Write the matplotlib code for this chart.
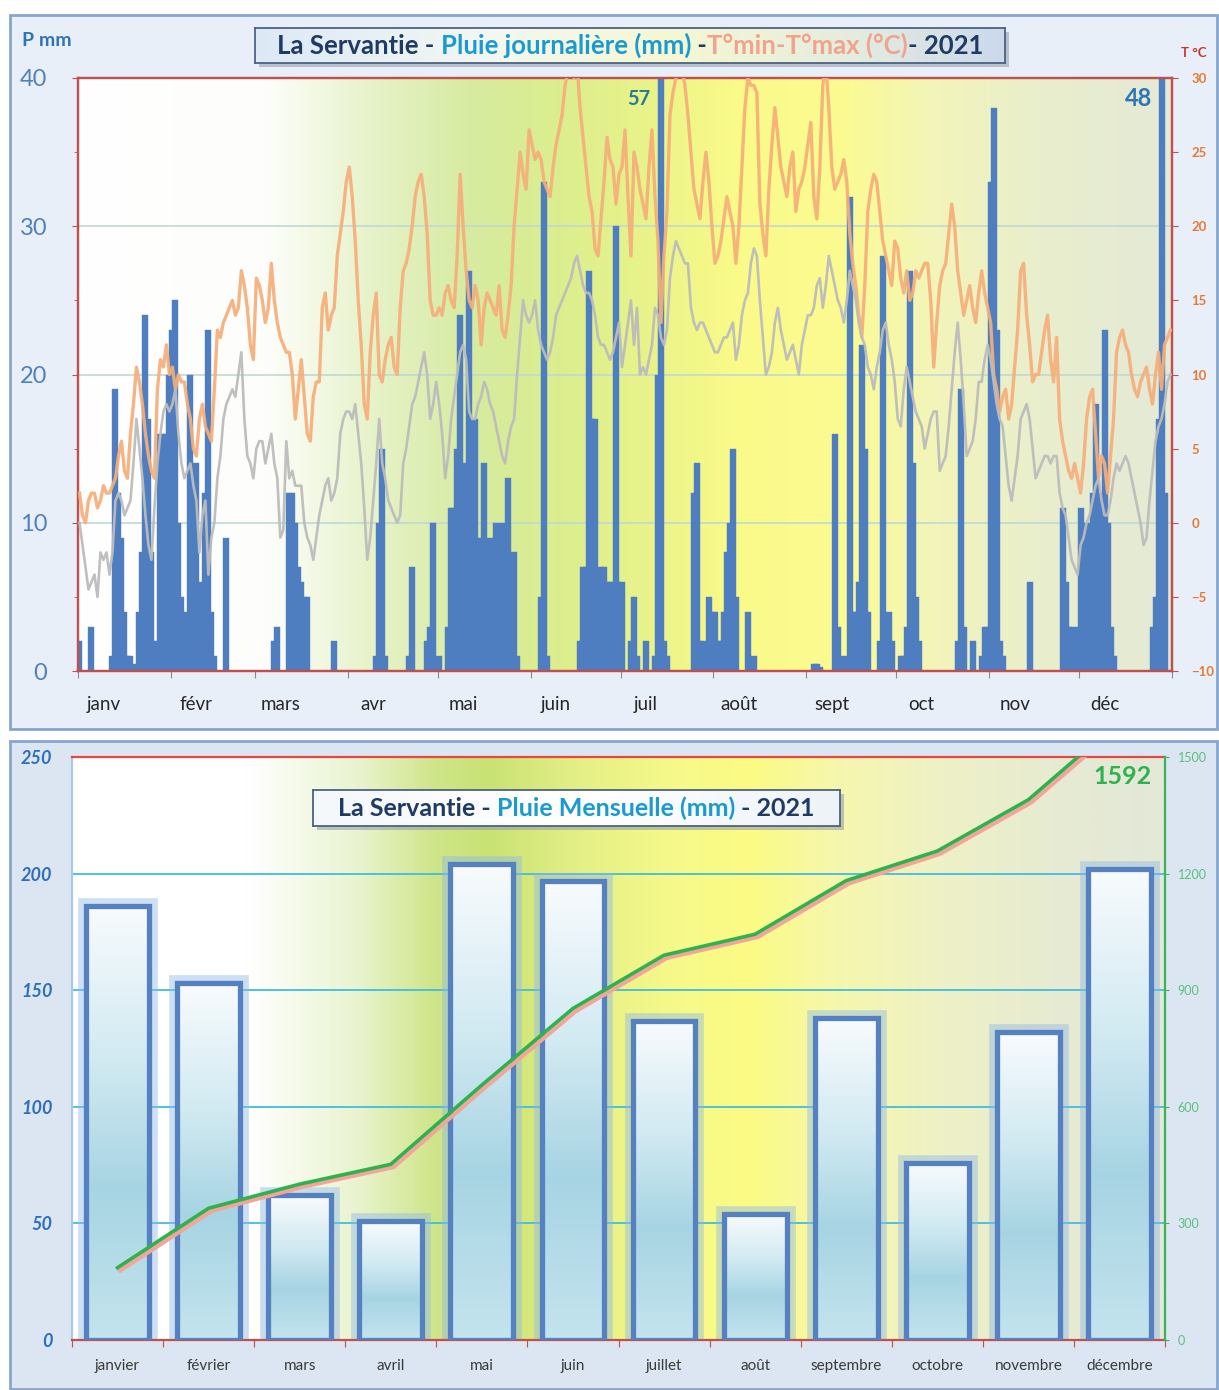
import numpy as np
import matplotlib
matplotlib.use('Agg')
import matplotlib.pyplot as plt
from matplotlib.colors import LinearSegmentedColormap
from matplotlib.offsetbox import TextArea, HPacker, AnchoredOffsetbox
from matplotlib.patches import Rectangle
import matplotlib.transforms as mtransforms

plt.rcParams['font.family'] = ['Lato', 'DejaVu Sans']

# ---------------- DATA ----------------
month_short = ['janv', 'févr', 'mars', 'avr', 'mai', 'juin', 'juil', 'août', 'sept', 'oct', 'nov', 'déc']
month_long = ['janvier', 'février', 'mars', 'avril', 'mai', 'juin', 'juillet', 'août',
              'septembre', 'octobre', 'novembre', 'décembre']
month_days = [31, 28, 31, 30, 31, 30, 31, 31, 30, 31, 30, 31]

rain_jan = [2,0,0,0,3,0,0,0,0,0, 0,1,19,12,9,4,1,1,0,0.5, 4,8,24,17,8,2,0,16,16,16, 20]
rain_feb = [23,25,10,5,4,2,20,8,14,3, 6,12,23,4,1,0,0,0,9,0, 0,0,0,0,0,0,0,0]
rain_mar = [0,0,0,0,0,0,2,3,0,0, 0,12,12,10,7,6,5,5,0,0, 0,0,0,0,0,0,2,0,0,0, 0]
rain_apr = [0,0,0,0,0,0,0,0,0,1, 10,15,1,0,0,0,0,0,0,0, 1,7,0,0,0,0,2,3,10,0]
rain_may = [1,0,0,3,11,11,15,24,5,14, 27,12,17,9,8,14,6,9,4,10, 5,10,4,13,3,8,1,0,0,0, 0]
rain_jun = [0,0,0,5,33,1,0,0,0,0, 0,0,0,0,0,0,2,7,7,27, 17,17,6,7,7,6,6,6,30,6]
rain_jul = [6,0,0,2,5,1,0,0,2,0, 0,1,20,57,2,1,0,0,0,0, 0,0,0,0,12,14,2,2,0,5, 4]
rain_aug = [4,2,2,4,8,10,15,5,0,0, 0,4,0,1,0,0,0,0,0,0, 0,0,0,0,0,0,0,0,0,0, 0]
rain_sep = [0,0,0.5,0.5,0.3,0,0,0,0,16, 3,1,0,1,32,4,4,6,22,15, 4,0,0,0,2,28,2,4,2,0]
rain_oct = [0,1,1,3,27,14,5,2,0,0, 0,0,0,0,0,0,0,0,0,0, 2,19,3,0,0,2,0,0,1,3, 3]
rain_nov = [33,38,23,2,1,0,0,0,0,0, 0,0,0,6,0,0,0,0,0,0, 0,0,0,0,11,6,3,3,2,3]
rain_dec = [11,8,10,6,12,18,12,10,23,10, 3,1,0,0,0,0,0,0,0,0, 0,0,0,0,3,5,17,48,12,0, 0]

tmax_jan = [2,0.5,0,1.5,2,2,1,1.5,2.5,2, 2,2.5,3,4.5,5.5,3.5,3,6,8,10.5, 9.5,8,6,4.5,3.5,3,9,11,10.5,12, 10]
tmax_feb = [10.5,9,10,9.5,9.5,8,7,5,4.5,7, 8,6.5,6,5.5,9,13,12.5,13.5,14,14.5, 15,14,14.5,17,16,14.5,12,11]
tmax_mar = [16.5,16,15,13.5,14.5,17.5,15,13.5,12.5,12, 11.5,11.5,10,7,9,11,8.5,6,5.5,8.5, 9.5,9.5,14.5,15.5,13,14,14.5,18,19.5,21, 23]
tmax_apr = [24,22,19,15,12,8,7,11.5,14,15.5, 10,9.5,11,12,12.5,10.5,10,14.5,17,17.5, 18.5,20,22,23,23.5,22,19.5,15,14,14]
tmax_may = [14.5,14,15.5,16,15,14.5,18,23.5,20,17, 15,14.5,16,15,12,14.5,15.5,15,14.5,14, 16,13,12.5,14,16,20,22.5,25,23.5,22.5, 26.5]
tmax_jun = [25.5,24.5,25,24.5,23,22.5,22,24,25.5,26.5, 27.5,29.5,30.5,31,30,31,28,26,24,22, 21,18.5,18,20.5,23,26,24.5,24,21.5,23.5]
tmax_jul = [24,26.5,22,18,25,24,22.5,21.5,20.5,24, 26.5,22,19,13.5,18,21,27.5,29,30,31, 30.5,29.5,27.5,25,22.5,21.5,20.5,23,25,23, 20]
tmax_aug = [17.5,18,19,20.5,22,21,20,17.5,20,24, 28,30,29.5,29.5,29,21.5,19.5,18,22.5,25.5, 28,26,24,23,22,24,25,21,22.5,23, 24]
tmax_sep = [25.5,27,22,20.5,24,29.5,31,28,24,22.5, 23,23.5,24.5,23,19.5,17.5,16,14,12.5,16, 21,22.5,23.5,23,21,19,18,17,16,19]
tmax_oct = [18.5,16.5,15.5,17,15,15.5,17,16.5,17,17.5, 17.5,15,10.5,13.5,16,17,17.5,19.5,21.5,20, 17,15.5,14,15,16,14.5,13.5,15.5,17,15.5, 14.5]
tmax_nov = [13.5,10,9,7.5,8.5,9,7,8,10.5,13, 17,17.5,14,12,9.5,10,10,11.5,13,14, 11,9.5,12.5,7,5.5,4.5,3.5,3,4,3]
tmax_dec = [2,4,7,8.5,9,6,3,4.5,4,2, 4.5,7,11.5,12.5,13,12,11.5,10,9,8.5, 9.5,10,10.5,9,8,10,11.5,9,12,12.5, 13]

tmin_jan = [0,-1.5,-3,-4.5,-4,-3.5,-5,-2,-2.5,-2, -3.5,-2,1.5,2,1.5,0.5,1,1.5,4,7, 5,3,0.5,-1.5,-2.5,1,4,6,7.5,8, 7.5]
tmin_feb = [8,9,6,4,3,3.5,4,2.5,1.5,-2, 0.5,1.5,-3.5,-1,0,3,4.5,7,8,8.5, 9,8.5,10,11.5,7,4.5,4,3]
tmin_mar = [5,5.5,5.5,4,5,6,4,3,-1,-0.5, 5.5,3,3.5,2.5,2.5,2.5,0,-1,-1.5,-2.5, -1,0.5,1.5,2.5,3,1.5,2,3,6,7, 7.5]
tmin_apr = [7.5,7,8,6,4,1,-2.5,-1,1.5,4, 7,4,3,1.5,1,0.5,0,0.5,4,5, 6.5,8,8.5,9.5,10.5,11.5,10,7,8,9.5]
tmin_may = [8,6,3,4.5,7,8.5,10,11.5,12,11, 7.5,7,7,8,8.5,9.5,9,8,7.5,6.5, 5.5,4.5,4,5.5,6.5,7,10,12.5,15,14, 13.5]
tmin_jun = [14,15,13,12,11.5,11,11.5,12.5,14,14.5, 15,15.5,16,16.5,17.5,18,17,16,15.5,15.5, 15,14,12.5,12,12,11.5,11,11.5,12.5,13.5]
tmin_jul = [10.5,12,13.5,15,12,14.5,10,10.5,10,11, 12,14.5,14,12.5,12,13,16.5,18,19,18.5, 18,17.5,17.5,14.5,13.5,13,13.5,13.5,13,12.5, 12]
tmin_aug = [11.5,11.5,12,12.5,12.5,13,13.5,11,12,14, 15,15.5,17.5,18.5,18,15,12.5,10,10.5,11.5, 13.5,14.5,13,12,11,11.5,12,11,10,12, 13]
tmin_sep = [14,14,14.5,16,16.5,14.5,16,18,17,16, 15,14.5,13.5,15,17,16,15,13.5,12.5,12, 10.5,10,9,10.5,11.5,13,13.5,12,11,9.5]
tmin_oct = [7,6.5,9,10.5,9.5,8.5,7.5,7,6.5,5, 6,7,7.5,7.5,3.5,4,4.5,6.5,9,11.5, 13.5,11,8,4.5,5,5.5,7,9.5,9.5,11, 12]
tmin_nov = [11,9.5,8,7,6.5,4.5,2.5,1.5,3,4.5, 7,7.5,8,7,5,3,3.5,4,4.5,4.5, 4,4.5,4.5,2,1,0.5,-1,-2.5,-3,-3.5]
tmin_dec = [-1.5,-1,0,0.5,1.5,2.5,3,1.5,0.5,0.5, 1.5,3,4,3.5,4,4.5,4,3,2,1, 0,-1.5,-1,1.5,3.5,5.5,6.5,7,8,9.5, 10]

monthly_rain = [186, 153, 62, 51, 204, 197, 137, 54, 138, 76, 132, 202]

rain = np.array(rain_jan + rain_feb + rain_mar + rain_apr + rain_may + rain_jun +
                rain_jul + rain_aug + rain_sep + rain_oct + rain_nov + rain_dec, dtype=float)
tmax = np.array(tmax_jan + tmax_feb + tmax_mar + tmax_apr + tmax_may + tmax_jun +
                tmax_jul + tmax_aug + tmax_sep + tmax_oct + tmax_nov + tmax_dec, dtype=float)
tmin = np.array(tmin_jan + tmin_feb + tmin_mar + tmin_apr + tmin_may + tmin_jun +
                tmin_jul + tmin_aug + tmin_sep + tmin_oct + tmin_nov + tmin_dec, dtype=float)
days = np.arange(len(rain))
month_start = np.concatenate([[0], np.cumsum(month_days)[:-1]])

# ---------------- FIGURE ----------------
W, H = 1219, 1390
fig = plt.figure(figsize=(W / 100, H / 100), dpi=100)
fig.patch.set_facecolor('white')


def fx(px):
    return px / W


def fy(py):
    return 1 - py / H


# panel frames
for (x0, y0, x1, y1, fc) in [(10, 15, 1217, 729, '#e8eff8'), (10, 741, 1217, 1389, '#dbe6f2')]:
    fig.patches.append(Rectangle((fx(x0), fy(y1)), fx(x1) - fx(x0), fy(y0) - fy(y1),
                                 transform=fig.transFigure, facecolor=fc,
                                 edgecolor='#86a6cf', lw=2, zorder=-5))


def hgrad(ax, stops):
    cmap = LinearSegmentedColormap.from_list('g', stops)
    grad = np.linspace(0, 1, 600).reshape(1, -1)
    ax.imshow(grad, aspect='auto', cmap=cmap, extent=(0, 1, 0, 1),
              transform=ax.transAxes, zorder=0, interpolation='bilinear')


RED = '#c0504d'

# ---------------- TOP PANEL ----------------
ax1 = fig.add_axes([fx(78), fy(671), fx(1172) - fx(78), fy(78) - fy(671)])
hgrad(ax1, [(0, '#ffffff'), (0.17, '#fdfefb'), (0.27, '#e6f2c8'), (0.36, '#d6eba0'),
            (0.44, '#dbee8e'), (0.52, '#e9f38a'), (0.6, '#f9fa88'), (0.7, '#fbfb92'),
            (0.78, '#f3f5b8'), (0.88, '#e9eecd'), (1, '#e4ead6')])
grid_top = [10, 20, 30]
ax1.hlines(grid_top, -0.5, days[-1] + 0.5, color='#bfd9d2', lw=1.2, zorder=1)
ax1.bar(days, rain, width=2.0, color='#4f7ec0', edgecolor='#4f7ec0', linewidth=0.3, zorder=2)
ax1.set_xlim(-0.5, days[-1] + 0.5)
ax1.set_ylim(0, 40)
ax1.set_autoscale_on(False)

# values of the bars that leave the axis
for i in np.where(rain > 40)[0]:
    big = (i > 300)
    ax1.text(i - 7.5, 38.6, f'{rain[i]:.0f}', ha='center', va='center',
             fontsize=17 if big else 14.5, fontweight='bold',
             color='#2e75b6' if big else '#2a7d8e', zorder=6)

ax1.set_yticks([0, 10, 20, 30, 40])
ax1.set_yticks([5, 15, 25, 35], minor=True)
ax1.tick_params(axis='y', which='major', labelsize=17, labelcolor='#4f81bd', color=RED,
                length=4, pad=18)
ax1.tick_params(axis='y', which='minor', color=RED, length=3)
ax1.set_xticks(list(month_start - 0.5) + [days[-1] + 0.5])
ax1.set_xticklabels([])
ax1.set_xticks(month_start + 8, minor=True)
ax1.set_xticklabels(month_short, minor=True)
ax1.tick_params(axis='x', which='major', length=5, color='#8a8a8a')
ax1.tick_params(axis='x', which='minor', length=0, pad=18, labelsize=13.5, labelcolor='#262626')
for s in ax1.spines.values():
    s.set_color(RED)
    s.set_linewidth(1.6)

ax2 = ax1.twinx()
ax2.plot(days, tmax, color='#f6ae7a', lw=2.4, alpha=0.92, zorder=3)
ax2.plot(days, tmin, color='#bcbcbc', lw=1.9, alpha=0.95, zorder=3)
ax2.set_ylim(-10, 30)
ax2.set_yticks(range(-10, 31, 5))
ax2.tick_params(axis='y', labelsize=9.5, labelcolor='#e57a36', color=RED, length=4, pad=10)
for lab in ax2.get_yticklabels():
    lab.set_fontweight('bold')
for s in ax2.spines.values():
    s.set_color(RED)
    s.set_linewidth(1.6)

fig.text(fx(22), fy(40), 'P mm', ha='left', va='center', fontsize=14,
         fontweight='bold', color='#2e75b6')
fig.text(fx(1194), fy(53), 'T °C', ha='center', va='center', fontsize=9.5,
         fontweight='bold', color='#c0392b')

# ---------------- BOTTOM PANEL ----------------
ax3 = fig.add_axes([fx(72), fy(1340), fx(1165) - fx(72), fy(757) - fy(1340)])
hgrad(ax3, [(0, '#ffffff'), (0.16, '#ffffff'), (0.26, '#e9f4cf'), (0.33, '#cfe58a'),
            (0.38, '#c9e274'), (0.46, '#e3ef86'), (0.55, '#f6f98a'), (0.62, '#fbfb84'),
            (0.7, '#f6f7ad'), (0.8, '#eef1c6'), (0.9, '#e7ebd2'), (1, '#e3e8d8')])
xs = np.arange(len(monthly_rain))
grid_bot = [50, 100, 150, 200]
ax3.hlines(grid_bot, -0.5, xs[-1] + 0.5, color='#3fbde0', lw=1.3, zorder=1)

bar_cmap = LinearSegmentedColormap.from_list('b', [(0, '#c4e4ee'), (0.35, '#a7d4e3'),
                                                   (0.65, '#d2eaf2'), (1, '#f8fbfd')])
vgrad = np.linspace(0, 1, 256).reshape(-1, 1)
bars = ax3.bar(xs, monthly_rain, width=0.69, facecolor='none', edgecolor='#5581c0',
               lw=3.8, zorder=4)
for b in bars:
    x0, w, h = b.get_x(), b.get_width(), b.get_height()
    ax3.add_patch(Rectangle((x0, 0), w, h, facecolor='none', edgecolor='#8fb8e6',
                            lw=12, alpha=0.45, zorder=2))
    im = ax3.imshow(vgrad, aspect='auto', cmap=bar_cmap, extent=(x0, x0 + w, 0, h),
                    origin='lower', zorder=3)
    im.set_clip_path(b)
ax3.set_xlim(-0.5, xs[-1] + 0.5)
ax3.set_ylim(0, 250)
ax3.set_autoscale_on(False)
ax3.set_yticks([0, 50, 100, 150, 200, 250])
ax3.tick_params(axis='y', length=0, pad=14, labelsize=13, labelcolor='#2f6eba')
for lab in ax3.get_yticklabels():
    lab.set_fontstyle('italic')
    lab.set_fontweight('bold')
ax3.set_xticks(np.arange(-0.5, xs[-1] + 1, 1))
ax3.set_xticklabels([])
ax3.set_xticks(xs, minor=True)
ax3.set_xticklabels(month_long, minor=True)
ax3.tick_params(axis='x', which='major', length=5, color=RED)
ax3.tick_params(axis='x', which='minor', length=0, pad=14, labelsize=11, labelcolor='#3a3a3a')
ax3.spines['top'].set_color('#e8473e')
ax3.spines['bottom'].set_color(RED)
ax3.spines['left'].set_color('#a9c9e4')
ax3.spines['right'].set_visible(False)
for s in ax3.spines.values():
    s.set_linewidth(1.6)

ax4 = ax3.twinx()
cum = np.cumsum(monthly_rain)
shadow = ax4.transData + mtransforms.ScaledTranslation(2 / 72, -2 / 72, fig.dpi_scale_trans)
ax4.plot(xs, cum, color='#f4a49b', lw=3, transform=shadow, zorder=4)
ax4.plot(xs, cum, color='#2eb24d', lw=2.6, zorder=5)
ax4.set_ylim(0, 1500)
ax4.set_yticks(range(0, 1501, 300))
ax4.tick_params(axis='y', labelsize=9, labelcolor='#5cc07a', color='#3cb35a', length=3, pad=6)
for k in ['top', 'bottom', 'left']:
    ax4.spines[k].set_visible(False)
ax4.spines['right'].set_color('#3cb35a')
ax4.spines['right'].set_linewidth(1.6)
ax4.text(xs[-1] + 0.03, 1450, f'{cum[-1]:.0f}', ha='center', va='center', fontsize=18,
         fontweight='bold', color='#2eb24d', zorder=6)


# ---------------- TITLE BOXES ----------------
def title_box(px0, py0, px1, py1, parts, fs, stops):
    rect = [fx(px0), fy(py1), fx(px1) - fx(px0), fy(py0) - fy(py1)]
    sax = fig.add_axes([rect[0] + 0.003, rect[1] - 0.003, rect[2], rect[3]], zorder=19)
    sax.set_facecolor('#8f9aa8')
    sax.patch.set_alpha(0.55)
    sax.set_xticks([]); sax.set_yticks([])
    for s in sax.spines.values():
        s.set_visible(False)
    tax = fig.add_axes(rect, zorder=20)
    cmap = LinearSegmentedColormap.from_list('t', stops)
    tax.imshow(np.linspace(0, 1, 300).reshape(1, -1), aspect='auto', cmap=cmap,
               extent=(0, 1, 0, 1), interpolation='bilinear')
    tax.set_xlim(0, 1); tax.set_ylim(0, 1)
    tax.set_xticks([]); tax.set_yticks([])
    for s in tax.spines.values():
        s.set_color('#4d6282')
        s.set_linewidth(1.3)
    areas = [TextArea(s, textprops=dict(color=c, fontsize=fs, fontweight='bold'))
             for s, c in parts]
    pack = HPacker(children=areas, align='baseline', pad=0, sep=0)
    anc = AnchoredOffsetbox(loc='center', child=pack, frameon=False,
                            bbox_to_anchor=(0.5, 0.5), bbox_transform=tax.transAxes,
                            borderpad=0, pad=0)
    tax.add_artist(anc)


NAVY = '#1f3b64'
TEAL = '#1a9ad0'
title_box(255, 28, 1005, 63,
          [('La Servantie - ', NAVY), ('Pluie journalière (mm)', TEAL), (' -', NAVY),
           ('T°min-T°max (°C)', '#f0a48e'), ('- 2021', NAVY)], 18.5,
          [(0, '#dce9f6'), (0.3, '#f3f7f2'), (0.55, '#f6f8d2'), (0.8, '#e5ecdf'), (1, '#cbd9ec')])
title_box(313, 790, 840, 826,
          [('La Servantie - ', NAVY), ('Pluie Mensuelle (mm)', TEAL), (' - 2021', NAVY)], 18,
          [(0, '#f4f8fb'), (0.5, '#ffffff'), (1, '#eef3f8')])

fig.savefig('out.png', dpi=100)
